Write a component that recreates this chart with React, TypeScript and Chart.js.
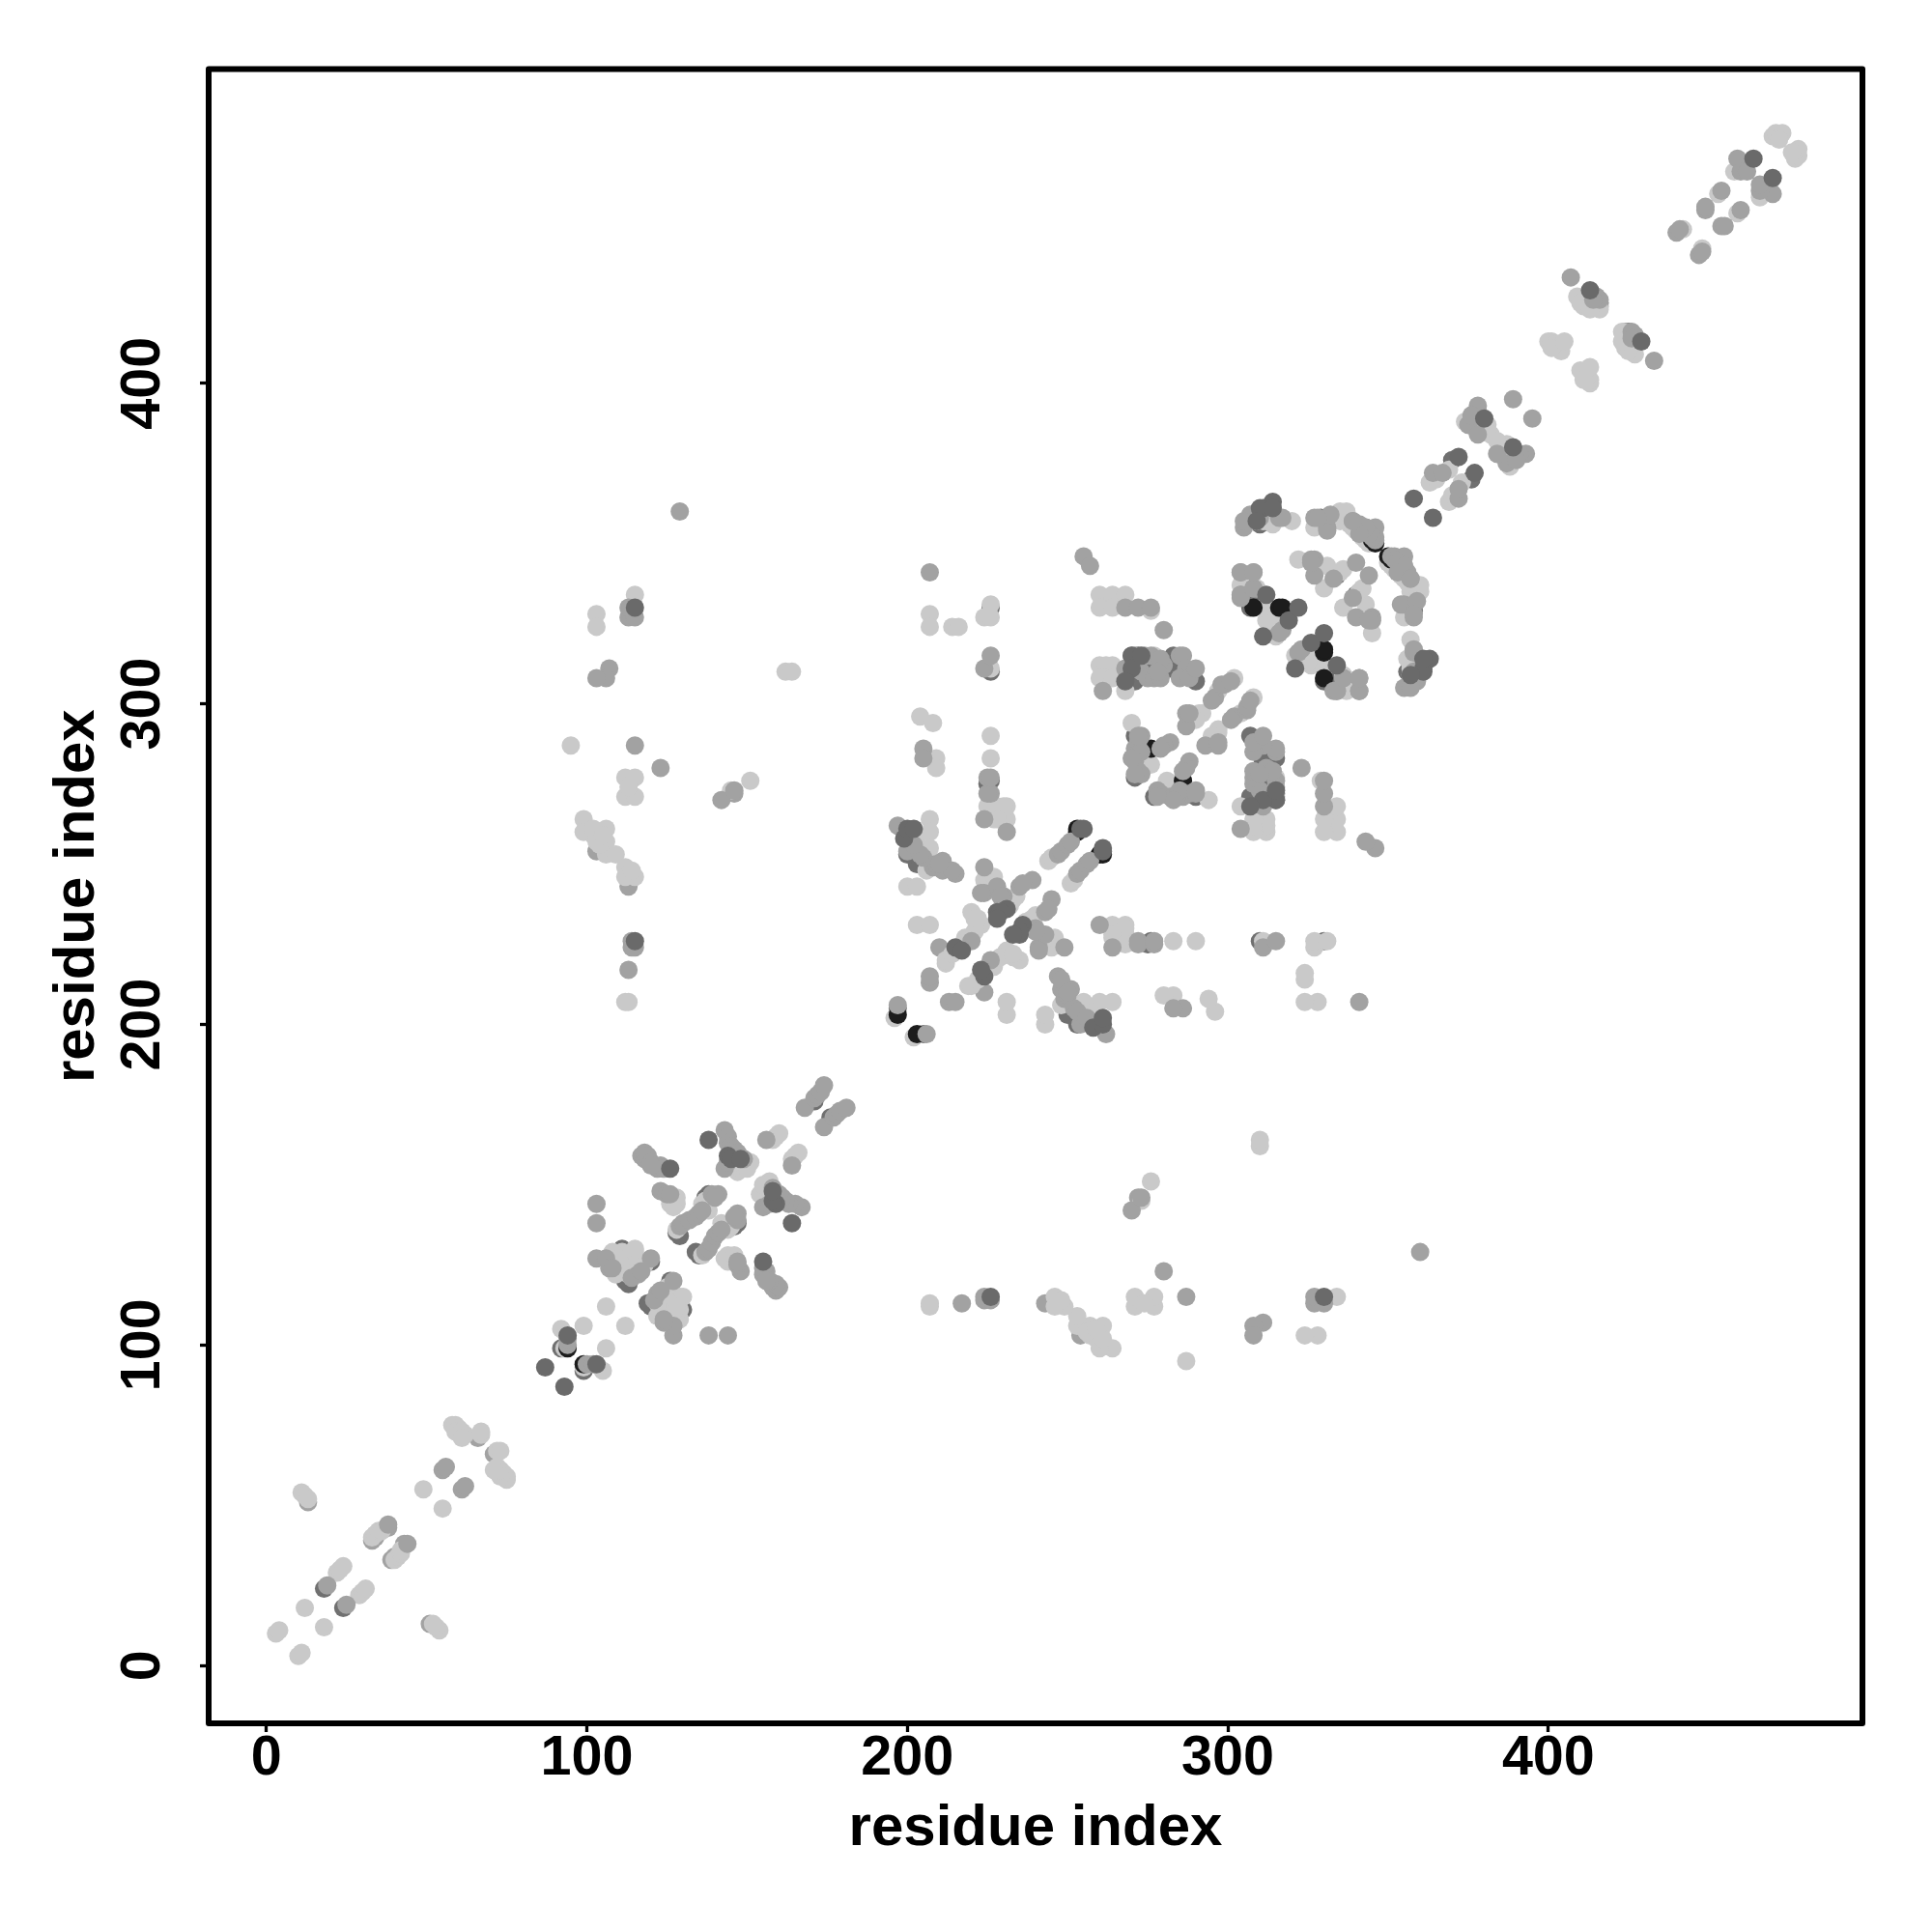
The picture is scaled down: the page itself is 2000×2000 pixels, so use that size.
import React, { useEffect, useRef } from "react";
import { Chart, registerables } from "chart.js";

Chart.register(...registerables);

const tickValues = [0, 100, 200, 300, 400];
const axisLabel = "residue index";

type Pair = [number, number];

// Contacts between residues i < j; the map is symmetric, each is drawn at (i,j) and (j,i).
const darkBackPairs: Pair[] = [
  [18, 24], [92, 99], [112, 120], [113, 119], [115, 124], [111, 130], [128, 135], [137, 146], [138, 147],
  [129, 134], [171, 176], [268, 307], [270, 311], [271, 307], [272, 315], [273, 312], [275, 311], [283, 315], [282, 311], [290, 307],
  [271, 290], [273, 283], [271, 277], [226, 276], [226, 310], [226, 330], [310, 356], [329, 358], [307, 330], [334, 340],
  [308, 334], [370, 376], [416, 425], [203, 250], [206, 251], [225, 275], [120, 126], [200, 253], [197, 205],
];

const midBackPairs: Pair[] = [
  [13, 51], [33, 39], [34, 40], [66, 71], [38, 43], [146, 272], [113, 243], [103, 254], [416, 424], [210, 224],
];

const lightPairs: Pair[] = [
  [3, 10], [4, 11], [12, 18], [22, 29], [23, 30], [24, 31], [11, 54], [12, 53], [13, 52], [33, 40], [34, 41], [35, 42], [36, 42],
  [49, 55], [58, 75], [59, 75], [60, 74], [59, 73], [61, 73], [62, 72], [61, 71], [67, 72], [67, 73],
  [92, 105], [93, 99], [99, 106], [106, 112],
  [108, 129], [109, 126], [110, 125], [111, 124], [112, 123], [109, 122], [111, 129], [113, 128], [115, 129], [114, 127], [116, 126], [113, 124],
  [115, 130], [112, 128], [114, 125], [118, 125], [110, 127], [113, 122], [128, 136], [136, 144], [138, 142], [137, 145],
  [126, 146], [127, 145], [128, 144], [126, 144], [127, 143], [128, 146], [146, 155], [147, 154], [148, 155], [149, 156], [150, 157], [151, 157], [150, 155],
  [158, 164], [159, 165], [160, 166], [196, 202], [207, 264], [207, 260], [207, 255], [203, 258], [206, 248], [204, 255],
  [200, 243], [203, 243], [212, 219], [212, 220], [214, 222], [218, 226], [218, 227], [220, 235], [221, 233], [223, 231], [221, 229], [222, 233],
  [224, 245], [227, 246], [234, 240], [232, 237], [233, 239], [244, 251], [245, 252], [231, 264], [231, 268], [227, 264], [226, 268], [228, 268], [230, 268], [228, 264],
  [203, 231], [207, 231], [207, 328], [207, 324], [214, 324], [216, 324], [224, 327], [226, 327], [226, 331], [226, 311], [204, 296], [208, 294],
  [209, 283], [209, 280], [226, 290], [226, 283], [225, 268], [260, 334], [264, 334], [268, 334], [260, 330], [264, 330], [276, 329],
  [260, 312], [262, 312], [264, 312], [260, 308], [262, 308], [264, 308], [268, 304], [277, 315], [270, 294], [275, 283], [276, 281],
  [297, 304], [291, 297], [292, 297], [290, 295], [302, 308], [309, 357], [311, 357], [312, 357], [320, 357], [327, 355],
  [335, 360], [336, 358], [337, 357], [338, 356], [339, 355], [340, 354], [341, 353], [342, 352], [343, 351], [344, 350],
  [322, 345], [331, 343], [335, 341], [330, 336], [336, 342], [314, 356], [335, 357], [336, 359], [337, 360],
  [304, 337], [312, 326], [315, 321], [314, 326], [311, 330], [309, 336], [313, 325],
  [363, 369], [365, 370], [369, 373], [379, 387], [381, 387], [380, 385], [374, 388], [377, 386], [382, 384],
  [400, 413], [401, 413], [402, 412], [403, 411], [404, 410], [401, 411], [405, 413],
  [409, 427], [411, 424], [414, 424], [412, 426], [410, 425], [416, 423], [413, 423],
  [442, 448], [453, 459], [462, 469], [458, 466], [460, 468], [470, 477], [471, 478], [473, 478], [472, 476],
  [99, 264], [99, 260], [106, 261], [102, 259], [106, 257], [103, 257], [106, 253], [109, 253], [112, 249], [115, 246], [112, 246], [114, 248],
  [112, 277], [115, 277], [112, 271], [115, 271], [113, 274], [115, 334], [103, 328], [103, 324], [162, 310], [164, 310], [95, 287], [151, 276], [145, 273],
  [112, 207], [113, 207], [102, 261], [104, 256], [105, 259],
];

const blackPairs: Pair[] = [
  [94, 99], [197, 203], [253, 260], [253, 261], [276, 286], [316, 330], [317, 330], [308, 330], [345, 351], [350, 346],
];

const midPairs: Pair[] = [
  [19, 25], [38, 44], [55, 61], [56, 62],
  [94, 100], [94, 102], [103, 144], [103, 138], [103, 127], [106, 127], [107, 124], [120, 127], [116, 122], [114, 121], [117, 123], [108, 124],
  [129, 137], [130, 138], [132, 139], [134, 140], [135, 141], [136, 142], [139, 147], [141, 147], [140, 146],
  [123, 148], [125, 147], [126, 147], [117, 159], [118, 158], [118, 160], [119, 159], [120, 157], [121, 156], [122, 155], [123, 156], [124, 155], [120, 156],
  [143, 167], [144, 165], [144, 163], [145, 162], [146, 161], [147, 160], [143, 155], [144, 157], [149, 158], [156, 164], [168, 174], [171, 177], [172, 178], [173, 179], [174, 181],
  [197, 206], [207, 213], [207, 215], [197, 262], [200, 254], [211, 248], [211, 251], [215, 247], [208, 249], [209, 250], [205, 252], [204, 253], [202, 256], [214, 248], [210, 250],
  [224, 249], [224, 241], [228, 243], [230, 240], [235, 243], [239, 245], [236, 244], [220, 226], [247, 253], [248, 254], [250, 256], [251, 257], [223, 241], [229, 240],
  [231, 260], [224, 264], [226, 272], [225, 272], [225, 277], [207, 341], [226, 277], [205, 286], [205, 283], [224, 311], [226, 315], [255, 346], [257, 343],
  [268, 330], [272, 330], [276, 330], [280, 323], [261, 304], [268, 311], [270, 315], [271, 315], [274, 315], [276, 315], [273, 310], [275, 308], [277, 308], [279, 308], [280, 312], [285, 315], [286, 315], [287, 311], [285, 308], [288, 308], [290, 311], [279, 314], [278, 310],
  [296, 302], [298, 306], [299, 306], [301, 307], [287, 293], [287, 297], [288, 297], [282, 288], [280, 287], [279, 286], [295, 301], [273, 290], [271, 286], [271, 282], [272, 288], [271, 284], [273, 285], [272, 279], [273, 278], [272, 290], [270, 283], [271, 278],
  [306, 357], [307, 359], [305, 355], [316, 358], [327, 358], [331, 355], [331, 358], [339, 357], [341, 356], [343, 355], [345, 354], [346, 355], [344, 353], [346, 352], [346, 351], [352, 345], [353, 344], [355, 343], [353, 341], [357, 339],
  [331, 354], [332, 359], [328, 358], [317, 358], [310, 358], [305, 357], [327, 345], [327, 340], [333, 339], [326, 345], [326, 344], [340, 344],
  [304, 341], [308, 341], [304, 333], [308, 336], [317, 323], [316, 322], [304, 334], [334, 304], [341, 304], [336, 308], [341, 308],
  [364, 372], [367, 372], [375, 387], [378, 393], [378, 391], [378, 384], [389, 395], [376, 390], [407, 433], [415, 427], [416, 426], [414, 426], [440, 447], [441, 448], [449, 454], [449, 455], [454, 460], [459, 470], [460, 466], [462, 466],
  [113, 217], [115, 224], [114, 224], [114, 226], [123, 280], [115, 287], [142, 270], [146, 273], [107, 311], [106, 308], [103, 308], [113, 327], [115, 327], [113, 330], [129, 360],
];

const darkFrontPairs: Pair[] = [
  [87, 93], [94, 103], [126, 155], [138, 164], [144, 159], [145, 158], [148, 158], [115, 330], [115, 226],
  [215, 224], [217, 223], [228, 235], [231, 236], [229, 235], [228, 233], [254, 261], [255, 261], [199, 258], [200, 261], [202, 261],
  [311, 361], [314, 363], [312, 334], [319, 326], [322, 330], [311, 321], [310, 361], [314, 361], [309, 357],
  [358, 364], [372, 377], [380, 389], [413, 429], [464, 470], [270, 315], [270, 311], [268, 307], [273, 315],
];

// Listed back to front.
const layers: { pairs: Pair[]; tone: string }[] = [
  { pairs: darkBackPairs, tone: "#707070" },
  { pairs: midBackPairs, tone: "#a2a2a2" },
  { pairs: lightPairs, tone: "#c9c9c9" },
  { pairs: blackPairs, tone: "#1c1c1c" },
  { pairs: midPairs, tone: "#a2a2a2" },
  { pairs: darkFrontPairs, tone: "#6a6a6a" },
];

const frame = {
  id: "frame",
  afterDraw(chart: any) {
    const { ctx, chartArea: a } = chart;
    ctx.save();
    ctx.strokeStyle = "#000";
    ctx.lineWidth = 6;
    ctx.lineJoin = "round";
    ctx.strokeRect(a.left, a.top, a.right - a.left, a.bottom - a.top);
    ctx.restore();
  },
};

const FONT = "'Liberation Sans'";

export default function App() {
  const ref = useRef<HTMLCanvasElement>(null);
  useEffect(() => {
    const useTicks = (s: any) => {
      s.ticks = tickValues.map((value) => ({ value }));
    };
    const chart = new Chart(ref.current!, {
      type: "scatter",
      data: {
        datasets: layers.map((l, idx) => ({
          data: l.pairs.flatMap(([i, j]) => [{ x: i, y: j }, { x: j, y: i }]),
          backgroundColor: l.tone,
          borderWidth: 0,
          pointRadius: 9.5,
          pointHoverRadius: 9.5,
          order: layers.length - idx,
        })),
      },
      options: {
        animation: false,
        responsive: false,
        layout: { padding: { top: 71.4, right: 72, left: 0, bottom: 0 } },
        plugins: { legend: { display: false }, tooltip: { enabled: false } },
        scales: {
          x: {
            type: "linear",
            min: -18,
            max: 498,
            afterBuildTicks: useTicks,
            afterFit: (s: any) => {
              s.height = 216;
            },
            grid: { drawOnChartArea: false, drawTicks: true, tickLength: 9, tickColor: "#000", tickWidth: 3.3 },
            border: { display: false },
            ticks: { color: "#000", font: { family: FONT, weight: "bold", size: 57.5 }, padding: -6, maxRotation: 0 },
            title: { display: true, text: axisLabel, color: "#000", font: { family: FONT, weight: "bold", size: 60 }, padding: { top: 0, bottom: 70.7 } },
          },
          y: {
            type: "linear",
            min: -18,
            max: 498,
            afterBuildTicks: useTicks,
            afterFit: (s: any) => {
              s.width = 216;
            },
            grid: { drawOnChartArea: false, drawTicks: true, tickLength: 9, tickColor: "#000", tickWidth: 3.3 },
            border: { display: false },
            ticks: { color: "#000", font: { family: FONT, weight: "bold", size: 57.5 }, padding: 10.2, minRotation: 90, maxRotation: 90, crossAlign: "center" },
            title: { display: true, text: axisLabel, color: "#000", font: { family: FONT, weight: "bold", size: 60 }, padding: { top: 44.5, bottom: 0 } },
          },
        },
      },
      plugins: [frame],
    } as any);
    return () => chart.destroy();
  }, []);
  return (
    <div style={{ position: "absolute", left: 0, top: 0, width: 2000, height: 2000, background: "#fff" }}>
      <canvas ref={ref} width={2000} height={2000} style={{ display: "block" }} />
    </div>
  );
}
